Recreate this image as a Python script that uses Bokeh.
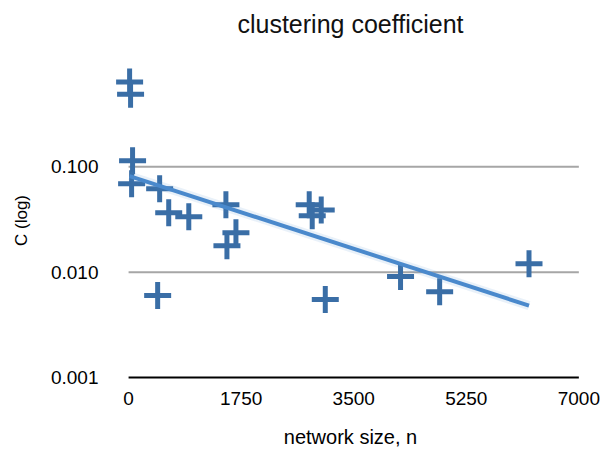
import numpy as np
from bokeh.plotting import figure
from bokeh.models import Range1d, FixedTicker, PrintfTickFormatter, LinearAxis
from bokeh.embed import file_html
from bokeh.resources import INLINE

# data
network_size = [16, 31, 62, 47, 483, 624, 936, 1513, 1669, 1529, 452,
                2808, 2995, 2855, 3058, 4228, 4836, 6225]
clustering = [0.64, 0.49, 0.114, 0.069, 0.062, 0.0366, 0.0336, 0.0436, 0.0237,
              0.0178, 0.0060, 0.0436, 0.039, 0.0343, 0.0055, 0.0091, 0.0065, 0.0120]
x_ticks = [0, 1750, 3500, 5250, 7000]
y_ticks = [0.001, 0.01, 0.1]
y_grid = [0.01, 0.1]
x_min, x_max = 0, 7000
y_min = 0.001
title_text = "clustering coefficient"

# exponential trendline (least squares on log C)
b, a = np.polyfit(np.array(network_size, float), np.log(clustering), 1)
trend_x = np.array([min(network_size), max(network_size)], float)
trend_y = np.exp(a + b * trend_x)

FONT = "Liberation Sans"
# ranges padded slightly so markers at the edge are not clipped
p = figure(width=600, height=450, y_axis_type="log",
           x_range=Range1d(-250, 7150), y_range=Range1d(0.000957, 1.0),
           output_backend="svg", toolbar_location=None)
p.min_border_left = 112
p.min_border_right = 12
p.min_border_top = 61
p.min_border_bottom = 70
p.outline_line_color = None
p.background_fill_color = "white"

# grid (drawn as segments spanning the data extent)
p.xgrid.visible = False
p.ygrid.visible = False
p.segment(x0=[x_min] * len(y_grid), x1=[x_max] * len(y_grid), y0=y_grid, y1=y_grid,
          line_color="#a6a6a6", line_width=2)
# x axis baseline
p.segment(x0=[x_min], x1=[x_max], y0=[y_min], y1=[y_min],
          line_color="black", line_width=2)

# x axis (bottom)
xa = p.below[0]
xa.ticker = FixedTicker(ticks=x_ticks)
xa.axis_line_color = None
xa.major_tick_line_color = None
xa.minor_tick_line_color = None
xa.major_tick_out = 0
xa.major_tick_in = 0
xa.major_label_standoff = 12
xa.major_label_text_font = FONT
xa.major_label_text_font_size = "19px"
xa.major_label_text_color = "black"
xa.axis_label = "network size, n"
xa.axis_label_text_font = FONT
xa.axis_label_text_font_size = "20px"
xa.axis_label_text_font_style = "normal"
xa.axis_label_text_color = "black"
xa.axis_label_standoff = 18

# y axis
ya = p.left[0]
ya.ticker = FixedTicker(ticks=y_ticks)
ya.formatter = PrintfTickFormatter(format="%.3f")
ya.axis_line_color = None
ya.major_tick_line_color = None
ya.minor_tick_line_color = None
ya.major_tick_out = 0
ya.major_tick_in = 0
ya.major_label_standoff = 14
ya.major_label_text_font = FONT
ya.major_label_text_font_size = "19px"
ya.major_label_text_color = "black"
ya.axis_label = "C (log)"
ya.axis_label_text_font = FONT
ya.axis_label_text_font_size = "17px"
ya.axis_label_text_font_style = "normal"
ya.axis_label_text_color = "black"
ya.axis_label_standoff = 17

# title drawn as the label of an empty axis above the frame
top = LinearAxis(ticker=FixedTicker(ticks=[]), axis_label=title_text)
top.axis_line_color = None
top.major_tick_line_color = None
top.minor_tick_line_color = None
top.major_tick_out = 0
top.major_tick_in = 0
top.major_label_text_font_size = "0px"
top.major_label_standoff = 0
top.axis_label_standoff = 24
top.axis_label_text_font = FONT
top.axis_label_text_font_size = "25px"
top.axis_label_text_font_style = "normal"
top.axis_label_text_color = "#111111"
p.add_layout(top, "above")

# markers
p.scatter(network_size, clustering, marker="cross", size=27,
          line_color="#3a6ea6", line_width=5)

# trendline with soft shadow
p.line(trend_x, trend_y, line_color="#4a89cc", line_width=9, line_alpha=0.12)
p.line(trend_x, trend_y, line_color="#4a89cc", line_width=4, line_cap="butt")

open("out.html", "w").write(file_html(p, INLINE))
